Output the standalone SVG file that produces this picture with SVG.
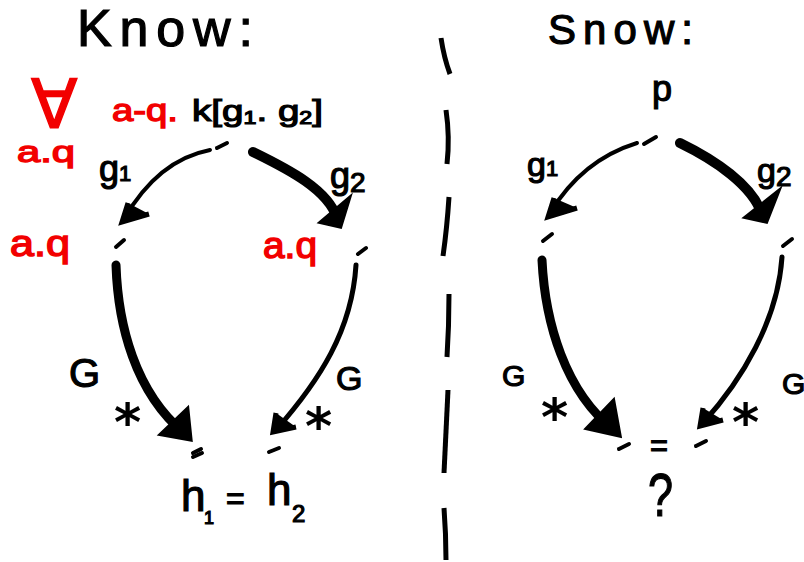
<svg xmlns="http://www.w3.org/2000/svg" width="804" height="562" viewBox="0 0 804 562">
<style>
.t{font-family:"Liberation Sans","DejaVu Sans",sans-serif;fill:#000;stroke:#000;stroke-width:1.2}
.r{fill:#f20000;stroke:#f20000;stroke-width:1.4}
.c{fill:none;stroke:#000;stroke-linecap:round;stroke-linejoin:round}
.h{fill:#000;stroke:#000;stroke-width:5;stroke-linejoin:miter;stroke-linecap:butt}
.d{stroke:#000;stroke-width:4;stroke-linecap:round}
.v{fill:none;stroke:#000;stroke-width:5;stroke-linecap:butt}
.s{font-family:"DejaVu Sans",sans-serif;font-weight:bold;font-size:52px;fill:#000}
</style>
<rect width="804" height="562" fill="#fff"/>
<g id="titles">
<text class="t" x="77" y="46" font-size="52" textLength="176" lengthAdjust="spacing" stroke-width="0.6">Know:</text>
<text class="t" x="548" y="44" font-size="42" textLength="145" lengthAdjust="spacing" stroke-width="0.6">Snow:</text>
</g>
<g id="divider">
<path class="v" d="M441,38 Q444,58 450,74"/>
<path class="v" d="M446,110 Q450,137 447,164"/>
<path class="v" d="M449,197 Q447,228 443,256"/>
<path class="v" d="M449,294 Q449,326 447,357"/>
<path class="v" d="M448,390 Q446,432 444,473"/>
<path class="v" d="M444,508 Q446,534 446,560"/>
</g>
<g id="labels-left">
<text class="t r" x="31" y="128" font-size="68" style="font-family:'DejaVu Sans',sans-serif" stroke-width="0.5">∀</text>
<text class="t r" x="17" y="162" font-size="30" textLength="58" lengthAdjust="spacingAndGlyphs">a.q</text>
<text class="t r" x="112" y="121" font-size="32" textLength="66" lengthAdjust="spacingAndGlyphs">a-q.</text>
<text class="t" x="192" y="121" font-size="30" textLength="131" lengthAdjust="spacingAndGlyphs">k[g<tspan font-size="18" dy="3">1</tspan><tspan dy="-3">. g</tspan><tspan font-size="18" dy="3">2</tspan><tspan dy="-3">]</tspan></text>
</g>
<g id="node-top-left">
<line class="d" x1="217" y1="148" x2="227" y2="143"/>
</g>
<g id="node-mid-left-1">
<line class="d" x1="116" y1="247" x2="124" y2="240"/>
<text class="t r" x="10" y="256" font-size="36" textLength="60" lengthAdjust="spacingAndGlyphs">a.q</text>
</g>
<g id="node-mid-left-2">
<line class="d" x1="358" y1="254" x2="366" y2="248"/>
<text class="t r" x="263" y="258" font-size="36" textLength="54" lengthAdjust="spacingAndGlyphs">a.q</text>
</g>
<g id="node-bottom-left-1">
<line class="d" x1="193" y1="457" x2="202" y2="453" stroke-width="3"/>
<line class="d" x1="193" y1="453" x2="201" y2="449" stroke-width="2"/>
<text class="t" x="181" y="511" font-size="44">h</text>
<text class="t" x="204" y="524" font-size="18">1</text>
</g>
<g id="node-bottom-left-2">
<line class="d" x1="269" y1="452" x2="279" y2="448"/>
<text class="t" x="267" y="505" font-size="44">h</text>
<text class="t" x="292" y="522" font-size="24">2</text>
</g>
<text class="t" x="226" y="509" font-size="32">=</text>
<g id="node-top-right">
<text class="t" x="652" y="101" font-size="36">p</text>
<line class="d" x1="644" y1="144" x2="656" y2="137"/>
</g>
<g id="node-mid-right-1">
<line class="d" x1="543" y1="241" x2="552" y2="234"/>
</g>
<g id="node-mid-right-2">
<line class="d" x1="783" y1="246" x2="792" y2="239"/>
</g>
<g id="node-bottom-right-1">
<line class="d" x1="619" y1="449" x2="629" y2="444"/>
</g>
<g id="node-bottom-right-2">
<line class="d" x1="696" y1="446" x2="706" y2="441"/>
</g>
<g id="question">
<text class="t" x="650" y="456" font-size="32" textLength="18" lengthAdjust="spacingAndGlyphs">=</text>
<text class="t" x="648" y="516" font-size="62" textLength="25" lengthAdjust="spacingAndGlyphs">?</text>
</g>
<g id="connectors">
<path class="c" stroke-width="4" d="M210,150 Q158,160 124,219"/>
<path class="h" stroke-width="4" fill="none" d="M128,203 L122,222 L149,214"/>
<path class="c" stroke-width="10" d="M253,152 C290,170 328,190 337,218"/>
<path class="h" d="M348,200 L340,226 L322,222 Z"/>
<path class="c" stroke-width="9" d="M116,265 C118,325 135,392 184,433"/>
<path class="h" d="M187,410 L190,439 L162,434 Z"/>
<path class="c" stroke-width="5" d="M356,265 C352,330 320,380 276,430"/>
<path class="h" stroke-width="4" fill="none" d="M276,413 L273,432 L296,427"/>
<path class="c" stroke-width="4" d="M637,143 Q582,160 550,213"/>
<path class="h" stroke-width="4" fill="none" d="M554,198 L548,217 L577,208"/>
<path class="c" stroke-width="10" d="M680,143 C715,160 752,185 762,214"/>
<path class="h" d="M777,193 L766,221 L747,217 Z"/>
<path class="c" stroke-width="9" d="M542,260 C545,322 565,392 614,430"/>
<path class="h" d="M613,402 L619,435 L588,428 Z"/>
<path class="c" stroke-width="5" d="M782,257 C778,320 742,380 703,423"/>
<path class="h" stroke-width="4" fill="none" d="M703,408 L700,426 L723,420"/>
</g>
<g id="edge-labels">
<text class="t" x="99" y="181" font-size="36">g<tspan font-size="22" dy="0">1</tspan></text>
<text class="t" x="330" y="188" font-size="36">g<tspan font-size="28" dy="4">2</tspan></text>
<text class="t" x="527" y="176" font-size="34">g<tspan font-size="22" dy="0">1</tspan></text>
<text class="t" x="757" y="182" font-size="34">g<tspan font-size="28" dy="4">2</tspan></text>
<text class="t" x="69" y="387" font-size="40">G</text>
<text class="t" x="336" y="390" font-size="34">G</text>
<text class="t" x="502" y="386" font-size="30">G</text>
<text class="t" x="782" y="394" font-size="30">G</text>
<text class="s" x="114" y="440">*</text>
<text class="s" x="305" y="444">*</text>
<text class="s" x="541" y="435">*</text>
<text class="s" x="732" y="440">*</text>
</g>
</svg>
